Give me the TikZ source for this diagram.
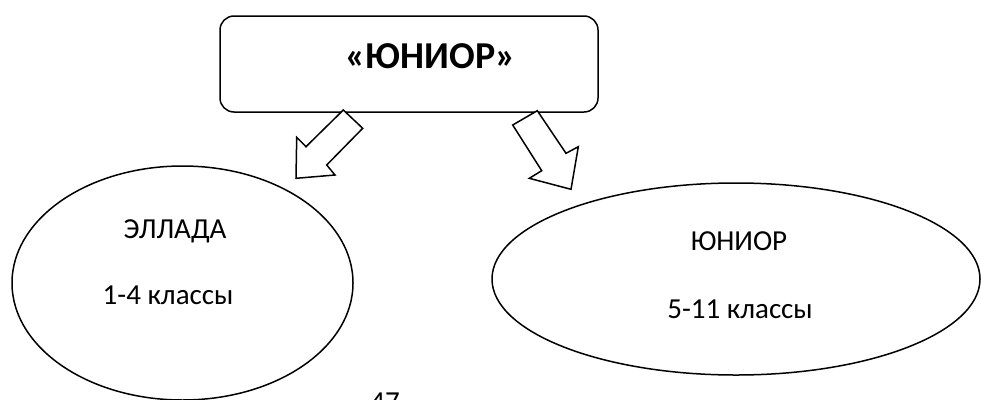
\documentclass[tikz,border=0pt]{standalone}
\usepackage{fontspec}
\setmainfont{Carlito}
\usetikzlibrary{shapes.geometric}
\begin{document}
\begin{tikzpicture}[x=1pt,y=-1pt,
  line width=1.5pt,
  lbl/.style={inner sep=0pt, font=\fontsize{29}{33}\selectfont},
  oval/.style={draw, ellipse, inner sep=0pt},
  blockarrow/.style={draw, fill=white, line join=miter}]
\useasboundingbox (0,0) rectangle (981,399);
\clip (0,0) rectangle (981,399);
% top box
\node[draw, rounded corners=14pt, minimum width=378pt, minimum height=96pt, inner sep=0pt] (top) at (409,64) {};
\node[inner sep=0pt, font=\fontsize{38}{42}\selectfont\bfseries, anchor=center] (toptext) at (430.5,56) {«ЮНИОР»};
% ellipses
\node[oval, minimum width=341pt, minimum height=234pt] (left) at (182.5,283) {};
\node[oval, minimum width=488pt, minimum height=192pt] (right) at (736,279) {};
\node[lbl] (ellada) at (175,231.5) {ЭЛЛАДА};
\node[lbl] (ellcls) at (168,295) {1-4 классы};
\node[lbl] (jun) at (739,241) {ЮНИОР};
\node[lbl] (juncls) at (740,309) {5-11 классы};
% block arrows
\draw[blockarrow] (343.3,110) -- (362.7,128.3) -- (326.7,165) -- (335,175) -- (296,178.3)
  -- (296.7,137.3) -- (306,146.7) -- cycle;
\draw[blockarrow] (512.7,125) -- (537.3,110.7) -- (566,153.3) -- (578.3,146.7) -- (571,189.3)
  -- (529.3,178.3) -- (541.7,170.7) -- cycle;
% page number
\node[lbl, anchor=north] (pg) at (385,392) {47};
\end{tikzpicture}
\end{document}
